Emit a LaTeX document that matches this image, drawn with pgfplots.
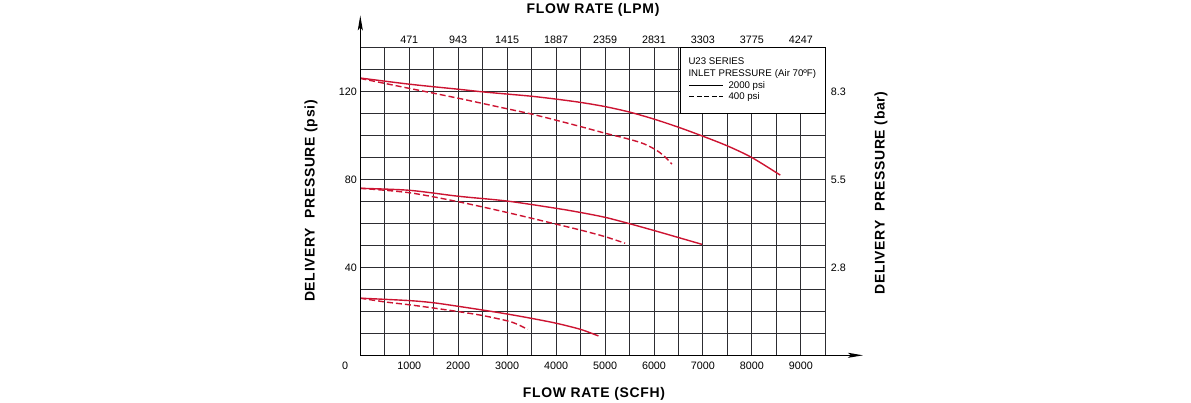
\documentclass[border=0pt]{standalone}
\usepackage{fontspec}
\setmainfont{Liberation Sans}
\newfontfamily\titlefont{Liberation Sans}[LetterSpace=5]
\usepackage{pgfplots}
\pgfplotsset{compat=1.18}
\usetikzlibrary{arrows.meta}
\definecolor{curve}{RGB}{205,20,50}
\definecolor{gridc}{RGB}{45,45,50}

\pgfplotstableread{
x y
0 126.2
1000 123.4
2000 121.1
2500 119.9
3000 118.9
3500 117.9
4000 116.6
4500 115.1
5000 113.2
5500 110.7
6000 107.5
6500 103.8
7000 99.7
7500 95.3
8000 90
8580 82
}\topsolid
\pgfplotstableread{
x y
0 126
1000 121.5
2000 117
3000 112.2
3500 109.8
4000 107
4500 104.1
5000 101.1
5500 98.3
5800 96.2
6060 93.2
6250 89.8
6365 87
}\topdashed
\pgfplotstableread{
x y
0 76
1000 75.1
2000 72.4
3000 70.2
4000 66.9
4500 65
5000 62.8
5500 59.9
6000 56.8
6500 53.6
6980 50.5
}\midsolid
\pgfplotstableread{
x y
0 76
1000 74
2000 69.9
3000 65
4000 59.7
4500 57
5000 54
5411 51
}\middashed
\pgfplotstableread{
x y
0 26
1000 24.9
1500 23.9
2000 22.3
2500 20.6
3000 18.8
3500 16.8
4000 14.6
4500 11.8
4865 8.8
}\lowsolid
\pgfplotstableread{
x y
0 26
500 24.3
1000 23
1500 21.5
2000 19.9
2500 18.1
3000 15.7
3200 14.2
3421 11.8
}\lowdashed

\begin{document}
\begin{tikzpicture}[x=1bp,y=1bp]
\useasboundingbox (0,0) rectangle (1191,402);
\begin{axis}[
  at={(360.3bp,46.7bp)}, anchor=south west,
  scale only axis, width=465bp, height=307.6bp,
  xmin=0, xmax=9500, ymin=0, ymax=140,
  axis line style={draw=none},
  xtick={1000,2000,...,9000},
  minor xtick={500,1500,...,9500},
  ytick={40,80,120},
  minor ytick={10,20,30,50,60,70,90,100,110,130,140},
  grid=both,
  major grid style={gridc, line width=0.95bp},
  minor grid style={gridc, line width=0.95bp},
  major tick length=0, minor tick length=0,
  scaled x ticks=false,
  xticklabel style={font=\fontsize{10.8}{12}\selectfont, yshift=-3.4bp},
  yticklabel style={font=\fontsize{10.8}{12}\selectfont},
  /pgf/number format/assume math mode=true,
  /pgf/number format/1000 sep={},
  clip=false,
]
\addplot[curve, line width=1.4bp, smooth] table {\topsolid};
\addplot[curve, line width=1.4bp, smooth, dash pattern=on 6bp off 3bp] table {\topdashed};
\addplot[curve, line width=1.4bp, smooth] table {\midsolid};
\addplot[curve, line width=1.4bp, smooth, dash pattern=on 6bp off 3bp] table {\middashed};
\addplot[curve, line width=1.4bp, smooth] table {\lowsolid};
\addplot[curve, line width=1.4bp, smooth, dash pattern=on 6bp off 3bp] table {\lowdashed};
\draw[black, line width=1.3bp, -{Stealth[length=15bp,width=5bp,inset=3bp]}] (axis cs:0,0) -- (axis cs:0,154.7);
\draw[black, line width=1.3bp, -{Stealth[length=15bp,width=5bp,inset=3bp]}] (axis cs:0,0) -- (axis cs:10270,0);
\end{axis}
\begin{axis}[
  at={(360.3bp,46.7bp)}, anchor=south west,
  scale only axis, width=465bp, height=307.6bp,
  xmin=0, xmax=9500, ymin=0, ymax=140,
  axis x line*=top, axis y line*=right,
  axis line style={draw=none},
  xtick={1000,2000,...,9000},
  xticklabels={471,943,1415,1887,2359,2831,3303,3775,4247},
  ytick={40,80,120},
  yticklabels={2.8,5.5,8.3},
  major tick length=0,
  xticklabel style={font=\fontsize{10.8}{12}\selectfont, yshift=0.5bp},
  yticklabel style={font=\fontsize{10.8}{12}\selectfont, xshift=2bp},
  /pgf/number format/assume math mode=true,
]
\end{axis}
% legend box
\draw[black, line width=0.95bp, fill=white] (680.3,288.7) rectangle (825.3,354.3);
\begin{scope}[every node/.style={inner sep=0pt, anchor=base west, font=\fontsize{9.7}{11}\selectfont}]
\node at (688.3,338) {U23 SERIES};
\node at (688.3,326) {INLET PRESSURE\,\,(Air 70ºF)};
\node at (728.3,313.7) {2000 psi};
\node at (728.3,302.7) {400 psi};
\end{scope}
\draw[black, line width=0.9bp] (689.3,316.7) -- (723.3,316.7);
\draw[black, line width=0.9bp, dash pattern=on 5bp off 2.5bp] (689.3,305.3) -- (723.3,305.3);
% zero label
\node[font=\fontsize{10.8}{12}\selectfont] at (345,36) {0};
% titles
\node[font=\titlefont\bfseries\fontsize{14}{16}\selectfont] at (593,392) {FLOW RATE (LPM)};
\node[font=\titlefont\bfseries\fontsize{14}{16}\selectfont] at (594,8) {FLOW RATE (SCFH)};
\node[rotate=90, font=\titlefont\bfseries\fontsize{14}{16}\selectfont] at (311,201) {DELIVERY\ \ PRESSURE (psi)};
\node[rotate=90, font=\titlefont\bfseries\fontsize{14}{16}\selectfont] at (881,209) {DELIVERY\ \ PRESSURE (bar)};
\end{tikzpicture}
\end{document}
